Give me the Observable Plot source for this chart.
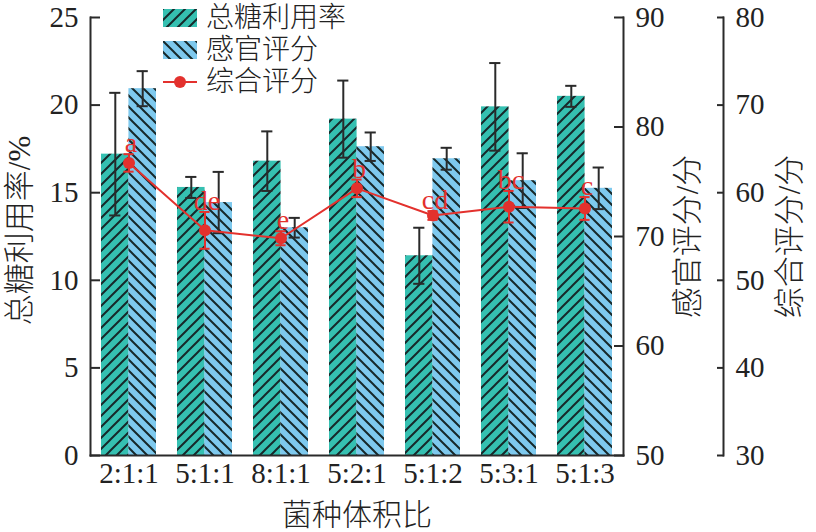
<!DOCTYPE html>
<html><head><meta charset="utf-8">
<script src="https://cdn.jsdelivr.net/npm/d3@7"></script>
<script src="https://cdn.jsdelivr.net/npm/@observablehq/plot@0.6"></script>
<style>
body{margin:0;background:#fff;}
#wrap{position:relative;width:816px;height:532px;}
#legend{position:absolute;left:163px;top:2px;font-family:"Liberation Serif","Noto Sans CJK SC";font-weight:300;font-size:28px;color:#222;}
.row{display:flex;align-items:center;height:32px;line-height:32px;}
.row svg{margin-right:9px;flex:none}
</style></head><body><div id="wrap"><div id="legend"></div></div>
<script>
const categories = ["2:1:1","5:1:1","8:1:1","5:2:1","5:1:2","5:3:1","5:1:3"];
const sugar      = [17.2, 15.3, 16.8, 19.2, 11.4, 19.9, 20.5];
const sugarErr   = [3.5, 0.6, 1.7, 2.2, 1.6, 2.5, 0.6];
const sensory    = [83.5, 73.1, 70.8, 78.2, 77.1, 75.1, 74.4];
const sensoryErr = [1.6, 2.8, 0.9, 1.3, 1.0, 2.5, 1.9];
const overall    = [63.4, 55.7, 54.8, 60.5, 57.4, 58.4, 58.2];
const overallErr = [1.0, 2.1, 0.8, 1.0, 0.5, 1.8, 1.3];
const letters    = ["a","de","e","b","cd","bc","c"];
const leftTicks  = [0,5,10,15,20,25];
const rightTicks = [50,60,70,80,90];
const thirdTicks = [30,40,50,60,70,80];
const seriesNames = ["总糖利用率","感官评分","综合评分"];
const xTitle = "菌种体积比";
const yTitles = ["总糖利用率/%","感官评分/分","综合评分/分"];

const TEAL="#35c0b1", BLUE="#7ec9ee", RED="#e3312d", INK="#2a2a2a";
const W=816,H=532,mL=90,mR=193,mT=17,mB=77;
const pInner=0.28,pOuter=0.14;
const step=(W-mL-mR)/(categories.length-pInner+2*pOuter);
const bw=step*(1-pInner), half=bw/2;
const capIn = w => (bw-w)/2;

// map right-hand scales into left scale domain [0,25]
const s2y = v => (v-50)/40*25, y2s = y => Math.round(y*40/25+50);
const c2y = v => (v-30)/50*25, y2c = y => Math.round(y*50/25+30);

const rows = categories.map((c,i)=>({cat:c,sugar:sugar[i],sErr:sugarErr[i],sens:sensory[i],eErr:sensoryErr[i],ov:overall[i],oErr:overallErr[i],letter:letters[i]}));

function patterns(prefix){
  const P=11;
  const d = d3.create("svg:defs");
  const p1 = d.append("pattern").attr("id",prefix+"Teal").attr("patternUnits","userSpaceOnUse").attr("width",P).attr("height",P);
  p1.append("rect").attr("width",P).attr("height",P).attr("fill",TEAL);
  p1.append("path").attr("d",`M-2,2L2,-2M0,${P}L${P},0M${P-2},${P+2}L${P+2},${P-2}`).attr("stroke","#16282a").attr("stroke-width",2);
  const p2 = d.append("pattern").attr("id",prefix+"Blue").attr("patternUnits","userSpaceOnUse").attr("width",P).attr("height",P);
  p2.append("rect").attr("width",P).attr("height",P).attr("fill",BLUE);
  p2.append("path").attr("d",`M-2,${P-2}L2,${P+2}M0,0L${P},${P}M${P-2},-2L${P+2},2`).attr("stroke","#16282a").attr("stroke-width",2);
  return d;
}

const errMarks = (yv, ev, dx, color, capW) => [
  Plot.ruleX(rows,{x:"cat",y1:d=>yv(d)-ev(d),y2:d=>yv(d)+ev(d),dx,stroke:color,strokeWidth:2}),
  Plot.tickY(rows,{x:"cat",y:d=>yv(d)+ev(d),dx,insetLeft:capIn(capW),insetRight:capIn(capW),stroke:color,strokeWidth:2}),
  Plot.tickY(rows,{x:"cat",y:d=>yv(d)-ev(d),dx,insetLeft:capIn(capW),insetRight:capIn(capW),stroke:color,strokeWidth:2})
];

const titleOpts = {text:d=>d,rotate:-90,fontSize:31,fontWeight:300,lineAnchor:"middle",textAnchor:"middle"};

const chart = Plot.plot({
  width:W,height:H,marginLeft:mL,marginRight:mR,marginTop:mT,marginBottom:mB,
  style:{fontFamily:'"Liberation Serif","Noto Sans CJK SC"',color:"#222",background:"#fff",overflow:"visible"},
  x:{type:"band",domain:categories,paddingInner:pInner,paddingOuter:pOuter,axis:null},
  y:{domain:[0,25],axis:null},
  marks:[
    () => patterns("p").node(),
    Plot.barY(rows,{x:"cat",y:"sugar",fill:"url(#pTeal)",insetRight:half}),
    Plot.barY(rows,{x:"cat",y:d=>s2y(d.sens),fill:"url(#pBlue)",insetLeft:half}),
    ...errMarks(d=>d.sugar,d=>d.sErr,-half/2,INK,11),
    ...errMarks(d=>s2y(d.sens),d=>s2y(d.sens+d.eErr)-s2y(d.sens),half/2,INK,11),
    Plot.lineY(rows,{x:"cat",y:d=>c2y(d.ov),stroke:RED,strokeWidth:2}),
    ...errMarks(d=>c2y(d.ov),d=>c2y(d.ov+d.oErr)-c2y(d.ov),0,RED,10),
    Plot.dot(rows,{x:"cat",y:d=>c2y(d.ov),r:6,fill:RED}),
    Plot.text(rows,{x:"cat",y:d=>c2y(d.ov+d.oErr),text:"letter",lineAnchor:"bottom",dy:-2,dx:2,fill:RED,fontSize:28}),
    Plot.frame({anchor:"left",stroke:INK,strokeWidth:2}),
    Plot.frame({anchor:"bottom",stroke:INK,strokeWidth:2}),
    Plot.frame({anchor:"right",stroke:INK,strokeWidth:2}),
    Plot.frame({anchor:"right",dx:100,stroke:INK,strokeWidth:2}),
    Plot.axisY({anchor:"left",ticks:leftTicks,tickSize:-10,tickPadding:22,fontSize:29,label:null,stroke:INK,strokeWidth:2}),
    Plot.axisY({anchor:"right",ticks:rightTicks.map(s2y),tickFormat:y2s,tickSize:-10,tickPadding:22,fontSize:29,label:null,stroke:INK,strokeWidth:2}),
    Plot.axisY({anchor:"right",dx:100,ticks:thirdTicks.map(c2y),tickFormat:y2c,tickSize:-7,tickPadding:19,fontSize:29,label:null,stroke:INK,strokeWidth:2}),
    Plot.axisX({anchor:"bottom",tickSize:0,tickPadding:7,fontSize:29,label:null}),
    Plot.text([xTitle],{text:d=>d,frameAnchor:"bottom",dy:60,fontSize:30,fontWeight:300,lineAnchor:"middle"}),
    Plot.text([yTitles[0]],{...titleOpts,frameAnchor:"left",dx:-70,dy:-6}),
    Plot.text([yTitles[1]],{...titleOpts,frameAnchor:"right",dx:65}),
    Plot.text([yTitles[2]],{...titleOpts,frameAnchor:"right",dx:167})
  ]
});
document.getElementById("wrap").prepend(chart);

// legend
const legend = d3.select("#legend");
const lsvg = d3.create("svg").attr("width",0).attr("height",0).style("position","absolute");
lsvg.append(()=>patterns("L").node());
legend.append(()=>lsvg.node());
seriesNames.forEach((name,i)=>{
  const row = legend.append("div").attr("class","row");
  const s = row.append("svg").attr("width",34).attr("height",18);
  if(i<2){
    s.append("rect").attr("width",34).attr("height",18).attr("fill",i===0?"url(#LTeal)":"url(#LBlue)");
  } else {
    s.append("line").attr("x1",0).attr("x2",34).attr("y1",9).attr("y2",9).attr("stroke",RED).attr("stroke-width",2);
    s.append("circle").attr("cx",17).attr("cy",9).attr("r",6).attr("fill",RED);
  }
  row.append("span").text(name);
});
</script></body></html>
